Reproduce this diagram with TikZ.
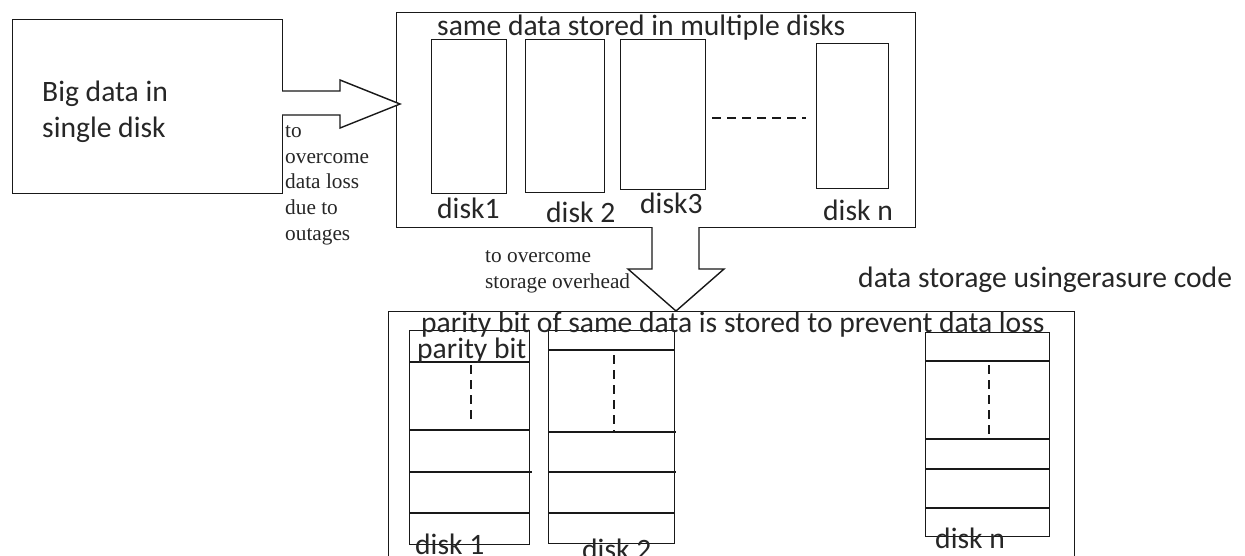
\documentclass[tikz,border=0pt]{standalone}
\usepackage{fontspec}
\setmainfont{Carlito}
\newfontfamily\serf{Liberation Serif}
\begin{document}
\begin{tikzpicture}[x=1pt,y=-1pt,
  ln/.style={line width=1.4pt, draw=black!90},
  boxn/.style={ln, rectangle, inner sep=0pt, anchor=north west},
  lbl/.style={inner sep=0pt, anchor=base west, font=\fontsize{29.6}{36}\selectfont, text=black!85},
  sml/.style={inner sep=0pt, anchor=base west, font=\serf\fontsize{21.3}{25.7}\selectfont, text=black!85},
  dsh/.style={ln, dash pattern=on 9pt off 6pt}]
\clip (0,0) rectangle (1245,555);
\useasboundingbox (0,0) rectangle (1245,555);

% big box
\node[boxn, minimum width=270pt, minimum height=174pt] (big) at (12,19) {};
\node[lbl] (bigt1) at (42,101) {Big data in};
\node[lbl] (bigt2) at (42,137) {single disk};

% top box
\node[boxn, minimum width=519pt, minimum height=215pt] (top) at (396,12) {};
\node[lbl] (toptitle) at (437,35) {same data stored in multiple disks};
\node[boxn, minimum width=75pt, minimum height=154pt] (t1) at (431,39) {};
\node[boxn, minimum width=79pt, minimum height=153pt] (t2) at (525,39) {};
\node[boxn, minimum width=85pt, minimum height=150pt] (t3) at (620,39) {};
\node[boxn, minimum width=72pt, minimum height=145pt] (tn) at (816,43) {};
\node[lbl] (t1l) at (437,218) {disk1};
\node[lbl] (t2l) at (546,222) {disk 2};
\node[lbl] (t3l) at (640,213) {disk3};
\node[lbl] (tnl) at (823,220) {disk n};
\coordinate (dl1) at (712,118);
\coordinate (dl2) at (806,118);
\draw[dsh] (dl1) -- (dl2);

% right block arrow
\draw[ln, fill=white] (282,91) -- (340,91) -- (340,80) -- (400,104) -- (340,128) -- (340,115) -- (282,115);
\node[sml] (s1) at (285,137) {to};
\node[sml] (s2) at (285,163) {overcome};
\node[sml] (s3) at (285,188) {data loss};
\node[sml] (s4) at (285,214) {due to};
\node[sml] (s5) at (285,240) {outages};

% down block arrow
\draw[ln, fill=white] (652,227) -- (652,269) -- (628,269) -- (676,311) -- (724,269) -- (699,269) -- (699,227);
\node[sml] (s6) at (485,262) {to overcome};
\node[sml] (s7) at (485,288) {storage overhead};

\node[lbl] (ec) at (858,287) {data storage usingerasure code};

% bottom box
\node[boxn, minimum width=686pt, minimum height=300pt] (bot) at (388,311) {};

% disk 1
\node[boxn, minimum width=120pt, minimum height=214pt] (b1) at (409,330) {};
\draw[ln] (409,362) -- (529,362);
\draw[ln] (409,430) -- (529,430);
\draw[ln] (409,472) -- (532,472);
\draw[ln] (409,513) -- (529,513);
\draw[dsh] (471,365) -- (471,423);
\node[lbl] (pb) at (417,358) {parity bit};

% disk 2
\node[boxn, minimum width=126pt, minimum height=213pt] (b2) at (548,330) {};
\draw[ln] (548,350) -- (674,350);
\draw[ln] (548,432) -- (676,432);
\draw[ln] (548,472) -- (676,472);
\draw[ln] (548,513) -- (674,513);
\draw[dsh] (614,355) -- (614,432);

% disk n
\node[boxn, minimum width=124pt, minimum height=204pt] (bn) at (925,332) {};
\draw[ln] (925,361) -- (1049,361);
\draw[ln] (925,439) -- (1049,439);
\draw[ln] (925,469) -- (1049,469);
\draw[ln] (925,508) -- (1049,508);
\draw[dsh] (989,365) -- (989,434);

\node[lbl] (bottitle) at (421,332) {parity bit of same data is stored to prevent data loss};
\node[lbl] (b1l) at (415,554) {disk 1};
\node[lbl] (b2l) at (582,559) {disk 2};
\node[lbl] (bnl) at (935,548) {disk n};
\end{tikzpicture}
\end{document}
